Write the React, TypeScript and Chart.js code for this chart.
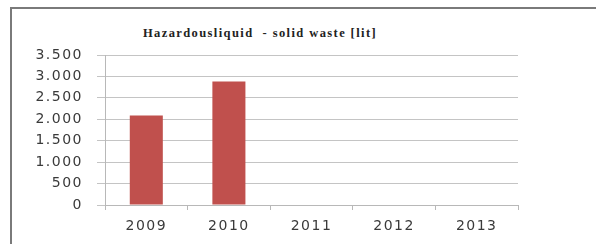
import React, { useEffect, useRef } from "react";
import { Chart, registerables } from "chart.js";

Chart.register(...registerables);

const categories = ["2009", "2010", "2011", "2012", "2013"];
const wasteValues = [2090, 2880, 0, 0, 0];
const yTicks = [0, 500, 1000, 1500, 2000, 2500, 3000, 3500];
const titleText = "Hazardousliquid  - solid waste [lit]";

function fmt(v: number): string {
  const s = Math.round(v).toString();
  return s.replace(/\B(?=(\d{3})+(?!\d))/g, ".");
}

const spacingPlugin = {
  id: "spacing",
  beforeUpdate(chart: any) {
    chart.ctx.letterSpacing = "1.5px";
  },
  beforeDraw(chart: any) {
    chart.ctx.letterSpacing = "1.5px";
  },
};

export default function App() {
  const ref = useRef<HTMLCanvasElement | null>(null);
  useEffect(() => {
    if (!ref.current) return;
    const chart = new Chart(ref.current, {
      type: "bar",
      data: {
        labels: categories,
        datasets: [
          {
            data: wasteValues,
            backgroundColor: "#c0504d",
            borderWidth: 0,
            categoryPercentage: 1,
            barPercentage: 0.4,
          },
        ],
      },
      options: {
        animation: false,
        responsive: false,
        maintainAspectRatio: false,
        layout: { padding: { left: 0, right: 78, top: 55, bottom: 0 } },
        plugins: { legend: { display: false }, title: { display: false }, tooltip: { enabled: false } },
        scales: {
          x: {
            offset: true,
            grid: {
              offset: true,
              drawOnChartArea: false,
              drawTicks: true,
              tickLength: 5,
              color: "#b8b8b8",
            },
            border: { display: true, color: "#b8b8b8", width: 1 },
            ticks: {
              color: "#3a3a3a",
              font: { family: "DejaVu Sans", size: 14 },
              padding: 8,
            },
            afterFit: (s: any) => {
              s.height = 39;
            },
          },
          y: {
            min: 0,
            max: 3500,
            afterBuildTicks: (s: any) => {
              s.ticks = yTicks.map((v) => ({ value: v }));
            },
            grid: {
              color: "#c4c4c4",
              lineWidth: 1,
              tickLength: 8,
            },
            border: { display: true, color: "#b8b8b8", width: 1 },
            ticks: {
              color: "#3a3a3a",
              font: { family: "DejaVu Sans", size: 14 },
              padding: 14,
              callback: (v: any) => fmt(Number(v)),
            },
            afterFit: (s: any) => {
              s.width = 105;
            },
          },
        },
      },
      plugins: [spacingPlugin],
    });
    return () => chart.destroy();
  }, []);

  return (
    <div style={{ position: "fixed", left: 0, top: 0, width: 596, height: 244, background: "#fff", overflow: "hidden" }}>
      <div
        style={{
          position: "absolute",
          left: 10,
          top: 7,
          width: 600,
          height: 260,
          borderLeft: "2px solid #7a7a7a",
          borderTop: "2px solid #7a7a7a",
          boxSizing: "border-box",
        }}
      />
      <div
        style={{
          position: "absolute",
          left: 120,
          width: 280,
          top: 25,
          textAlign: "center",
          fontFamily: "Liberation Serif",
          fontWeight: "bold",
          fontSize: 12.5,
          letterSpacing: "1.4px",
          whiteSpace: "pre",
          color: "#222",
          lineHeight: "16px",
        }}
      >
        {titleText}
      </div>
      <canvas ref={ref} width={596} height={244} style={{ position: "absolute", left: 0, top: 0 }} />
    </div>
  );
}
